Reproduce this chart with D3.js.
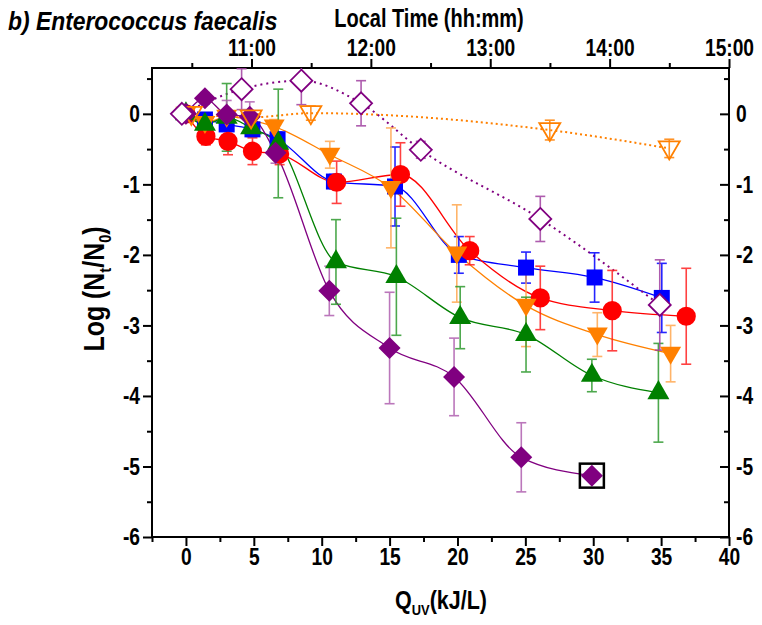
<!DOCTYPE html>
<html>
<head>
<meta charset="utf-8">
<script src="https://cdn.jsdelivr.net/npm/d3@7/dist/d3.min.js"></script>
<style>
  body { margin: 0; background: #fff; }
  text { font-family: "Liberation Sans", Arial, sans-serif; font-weight: bold; fill: #000; }
</style>
</head>
<body>
<svg id="chart" width="762" height="625"></svg>
<script>
// ---- data: log inactivation of E. faecalis vs cumulative UV dose ----
const blueX  = [0, 1.4, 3.0, 4.9, 6.75, 10.9, 15.4, 20.1, 25.05, 30.1, 35.05];
const blueY  = [0, -0.08, -0.15, -0.22, -0.36, -0.96, -1.03, -2.0, -2.18, -2.32, -2.61];
const blueE  = [0, 0.06, 0.08, 0.08, 0.1, 0.1, 0.56, 0.26, 0.22, 0.35, 0.49];

const redX   = [0, 1.47, 3.1, 4.9, 6.9, 11.1, 15.8, 20.9, 26.1, 31.4, 36.85];
const redY   = [0, -0.32, -0.39, -0.53, -0.57, -0.97, -0.86, -1.94, -2.61, -2.79, -2.87];
const redE   = [0, 0.12, 0.19, 0.19, 0.15, 0.3, 0.45, 0.2, 0.45, 0.57, 0.68];

const orangeX = [0, 1.4, 3.0, 4.8, 6.5, 10.6, 15.1, 19.95, 25.05, 30.3, 35.7];
const orangeY = [0, -0.13, -0.04, -0.09, -0.18, -0.58, -1.05, -1.98, -2.72, -3.13, -3.40];
const orangeE = [0, 0.1, 0.1, 0.1, 0.1, 0.19, 0.85, 0.69, 0.58, 0.31, 0.4];

const greenX = [0, 1.4, 3.0, 4.8, 6.8, 11.05, 15.5, 20.2, 25.05, 29.9, 34.8];
const greenY = [0, -0.15, -0.05, -0.2, -0.42, -2.1, -2.31, -2.89, -3.13, -3.71, -3.955];
const greenE = [0, 0.1, 0.48, 0.12, 0.77, 0.6, 0.83, 0.44, 0.53, 0.23, 0.70];

const purpleX = [0, 1.4, 3.0, 4.7, 6.6, 10.56, 15.0, 19.75, 24.7, 29.9];
const purpleY = [0, 0.22, -0.01, -0.04, -0.55, -2.51, -3.32, -3.73, -4.87, -5.13];
const purpleE = [0, 0.08, 0.2, 0.21, 0.15, 0.35, 0.79, 0.55, 0.49, 0];

// dark controls (open symbols, dotted)
const darkDiaX = [-0.3, 4.1, 8.5, 12.9, 17.3, 26.1, 34.9];
const darkDiaY = [0, 0.35, 0.47, 0.15, -0.51, -1.49, -2.71];
const darkDiaE = [0, 0.29, 0.34, 0.32, 0.12, 0.32, 0.64];

const darkTriX = [0.4, 4.8, 9.2, 26.8, 35.6];
const darkTriY = [0, -0.05, 0.01, -0.23, -0.49];
const darkTriE = [0, 0.06, 0.1, 0.14, 0.13];

// axis ticks
const xMajor = [0, 5, 10, 15, 20, 25, 30, 35, 40];
const xMinor = [-2.5, 2.5, 7.5, 12.5, 17.5, 22.5, 27.5, 32.5, 37.5];
const yMajor = [-6, -5, -4, -3, -2, -1, 0];
const yMinor = [-5.5, -4.5, -3.5, -2.5, -1.5, -0.5, 0.5];
const timeMajor = [11, 12, 13, 14, 15];          // hours of day
const timeMinor = [10.5, 11.5, 12.5, 13.5, 14.5];
const timeLabels = ["11:00", "12:00", "13:00", "14:00", "15:00"];

// ---- layout ----
const svg = d3.select("#chart");
const L = 152, R = 729, T = 68, B = 537;

const x = d3.scaleLinear().domain([-2.5, 40]).range([L, R]);
const y = d3.scaleLinear().domain([-6, 0.65]).range([B, T]);
const tTop = d3.scaleLinear().domain([10 + 10 / 60, 15]).range([L, R]);

const FS = 24, KX = 0.8; // tick label size and horizontal squeeze

function squeezeLabels(g, k) {
  g.selectAll(".tick text").each(function () {
    const t = d3.select(this);
    const x0 = +t.attr("x") || 0;
    t.attr("x", x0 / k).attr("transform", `scale(${k},1)`);
  });
}
function styleAxis(g) {
  g.select(".domain").remove();
  g.selectAll(".tick line").attr("stroke", "#000").attr("stroke-width", 2);
  g.selectAll(".tick text").style("font-size", FS + "px").style("font-family", "'Liberation Sans', Arial, sans-serif").style("font-weight", "bold").attr("fill", "#000");
}

// bottom axis
svg.append("g").attr("transform", `translate(0,${B})`)
  .call(d3.axisBottom(x).tickValues(xMinor).tickSize(5).tickFormat(""))
  .call(styleAxis);
svg.append("g").attr("transform", `translate(0,${B})`)
  .call(d3.axisBottom(x).tickValues(xMajor).tickSize(9).tickPadding(2).tickFormat(d => String(d)))
  .call(styleAxis).call(g => squeezeLabels(g, KX));

// left axis
svg.append("g").attr("transform", `translate(${L},0)`)
  .call(d3.axisLeft(y).tickValues(yMinor).tickSize(5).tickFormat(""))
  .call(styleAxis);
svg.append("g").attr("transform", `translate(${L},0)`)
  .call(d3.axisLeft(y).tickValues(yMajor).tickSize(9).tickPadding(3).tickFormat(d => String(d)))
  .call(styleAxis).call(g => squeezeLabels(g, KX));

// right axis (ticks pointing inward)
svg.append("g").attr("transform", `translate(${R},0)`)
  .call(d3.axisRight(y).tickValues(yMinor).tickSizeInner(-5).tickSizeOuter(0).tickFormat(""))
  .call(styleAxis);
svg.append("g").attr("transform", `translate(${R},0)`)
  .call(d3.axisRight(y).tickValues(yMajor).tickSizeInner(-9).tickSizeOuter(0).tickPadding(7).tickFormat(d => String(d)))
  .call(styleAxis).call(g => squeezeLabels(g, KX));

// top axis: local time
svg.append("g").attr("transform", `translate(0,${T})`)
  .call(d3.axisTop(tTop).tickValues(timeMinor).tickSize(5).tickFormat(""))
  .call(styleAxis);
svg.append("g").attr("transform", `translate(0,${T})`)
  .call(d3.axisTop(tTop).tickValues(timeMajor).tickSize(9).tickPadding(3).tickFormat((d, i) => timeLabels[i]))
  .call(styleAxis).call(g => squeezeLabels(g, KX));

// frame
svg.append("rect").attr("x", L).attr("y", T).attr("width", R - L).attr("height", B - T)
  .attr("fill", "none").attr("stroke", "#000").attr("stroke-width", 2);

// ---- titles ----
function label(px, py, size, k, opts = {}) {
  const t = svg.append("text")
    .attr("transform", `translate(${px},${py}) ${opts.rotate ? "rotate(-90)" : ""} scale(${k},1)`)
    .attr("text-anchor", opts.anchor || "start")
    .style("font-size", size + "px");
  if (opts.italic) t.style("font-style", "italic");
  return t;
}
label(8, 30, 26, 0.88, { italic: true }).text("b) Enterococcus faecalis");
label(429, 27, 25, 0.8, { anchor: "middle" }).text("Local Time (hh:mm)");

const xt = label(441, 609, 25, 0.86, { anchor: "middle" });
xt.append("tspan").text("Q");
xt.append("tspan").attr("dy", 6).style("font-size", "15px").text("UV");
xt.append("tspan").attr("dy", -6).text("(kJ/L)");

const yt = label(104, 289, 29, 0.86, { anchor: "middle", rotate: true });
yt.append("tspan").text("Log (N");
yt.append("tspan").attr("dy", 7).style("font-size", "17px").text("t");
yt.append("tspan").attr("dy", -7).text("/N");
yt.append("tspan").attr("dy", 7).style("font-size", "17px").text("0");
yt.append("tspan").attr("dy", -7).text(")");

// ---- data layer ----
svg.append("clipPath").attr("id", "plotClip")
  .append("rect").attr("x", L).attr("y", T).attr("width", R - L).attr("height", B - T);
const plot = svg.append("g").attr("clip-path", "url(#plotClip)");
const marks = svg.append("g");

const sym = {
  square:  d3.symbol().type(d3.symbolSquare).size(256)(),
  circle:  d3.symbol().type(d3.symbolCircle).size(290)(),
  triUp:   d3.symbol().type(d3.symbolTriangle).size(210)(),
  diamond: "M0,-11L11,0L0,11L-11,0Z",
  triDown: "M-10.5,-7L10.5,-7L0,11Z"
};

// fill: "none" for hollow symbols, "#fff" for white-filled open symbols
const series = [
  { xs: blueX, ys: blueY, es: blueE, color: "#0000FF", err: "#0000FF", shape: "square" },
  { xs: redX, ys: redY, es: redE, color: "#FF0000", err: "#FF2020", shape: "circle" },
  { xs: orangeX, ys: orangeY, es: orangeE, color: "#FF8000", err: "#FFA850", shape: "triDown" },
  { xs: greenX, ys: greenY, es: greenE, color: "#008000", err: "#2E9A2E", shape: "triUp" },
  { xs: purpleX, ys: purpleY, es: purpleE, color: "#800080", err: "#B060B0", shape: "diamond" },
  { xs: darkTriX, ys: darkTriY, es: darkTriE, color: "#FF8000", err: "#FF8000", shape: "triDown", open: true, fill: "none", dash: "2,3" },
  { xs: darkDiaX, ys: darkDiaY, es: darkDiaE, color: "#800080", err: "#A040A0", shape: "diamond", open: true, fill: "#fff", dash: "2,4" }
];

const line = d3.line().x(d => x(d[0])).y(d => y(d[1])).curve(d3.curveMonotoneX);

series.forEach(s => {
  const pts = s.xs.map((v, i) => [v, s.ys[i], s.es[i]]);
  plot.append("path").datum(pts)
    .attr("d", line).attr("fill", "none")
    .attr("stroke", s.color).attr("stroke-width", s.open ? 2 : 1.3)
    .attr("stroke-dasharray", s.dash || null);
});

series.forEach(s => {
  const pts = s.xs.map((v, i) => [v, s.ys[i], s.es[i]]).filter(p => p[2] > 0);
  const eg = plot.append("g").attr("stroke", s.err).attr("stroke-width", 1.6).attr("opacity", 0.85);
  eg.selectAll("line.v").data(pts).join("line")
    .attr("x1", d => x(d[0])).attr("x2", d => x(d[0]))
    .attr("y1", d => y(d[1] + d[2])).attr("y2", d => y(d[1] - d[2]));
  eg.selectAll("line.t").data(pts).join("line")
    .attr("x1", d => x(d[0]) - 5).attr("x2", d => x(d[0]) + 5)
    .attr("y1", d => y(d[1] + d[2])).attr("y2", d => y(d[1] + d[2]));
  eg.selectAll("line.b").data(pts).join("line")
    .attr("x1", d => x(d[0]) - 5).attr("x2", d => x(d[0]) + 5)
    .attr("y1", d => y(d[1] - d[2])).attr("y2", d => y(d[1] - d[2]));
});

series.forEach(s => {
  const pts = s.xs.map((v, i) => [v, s.ys[i]]);
  marks.append("g").selectAll("path").data(pts).join("path")
    .attr("transform", d => `translate(${x(d[0])},${y(d[1])})`)
    .attr("d", sym[s.shape])
    .attr("fill", s.open ? s.fill : s.color)
    .attr("stroke", s.color).attr("stroke-width", s.open ? 1.8 : 0);
});

// highlighted final point of the fastest-decaying series
const last = purpleX.length - 1;
marks.append("rect")
  .attr("x", x(purpleX[last]) - 12).attr("y", y(purpleY[last]) - 12)
  .attr("width", 24).attr("height", 24)
  .attr("fill", "none").attr("stroke", "#000").attr("stroke-width", 2.5);
</script>
</body>
</html>
